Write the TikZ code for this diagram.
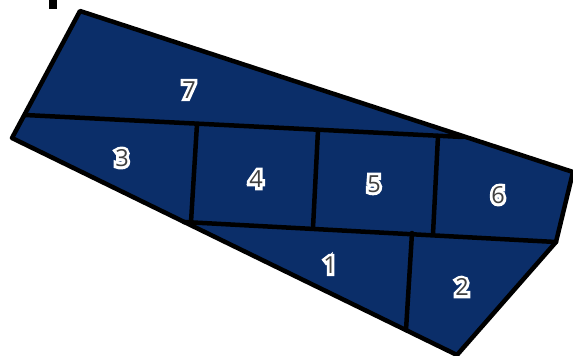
\documentclass[tikz,border=0pt]{standalone}
\usepackage{fontspec}
\setmainfont{Open Sans}
\newfontfamily\halofont[FakeBold=24]{Open Sans}
\definecolor{plotcol}{RGB}{11,46,105}
\definecolor{numcol}{RGB}{64,64,64}
\usetikzlibrary{calc}

\tikzset{
  plot edge/.style={line width=4.5pt, line join=round, line cap=round, black},
  plot num/.style={font=\fontsize{23.5}{24}\selectfont, inner sep=0pt, text=numcol},
  plot halo/.style={font=\halofont\fontsize{23.5}{24}\selectfont, inner sep=0pt, text=white},
}
% number with a white halo
\newcommand{\plotnum}[3]{%
  \node[plot halo] (#1h) at (#2) {#3};
  \node[plot num] (#1) at (#2) {#3};
}

\begin{document}
\begin{tikzpicture}[x=1pt, y=-1pt]
\useasboundingbox (0,0) rectangle (573,356);

% corner of a letter cut off above
\fill[black] (49,0) rectangle (57,9);

% outline
\coordinate (tl) at (80,11);
\coordinate (tr) at (573,172);
\coordinate (rc) at (556,242);
\coordinate (bt) at (457,355);
\coordinate (lf) at (12,138);
\coordinate (sl) at (25,115);
\coordinate (st) at (463,137);
\coordinate (ml) at (184,222);

\draw[plot edge, fill=plotcol] (tl) -- (tr) -- (rc) -- (bt) -- (lf) -- cycle;

% inner lines
\draw[plot edge] (sl) -- (st);
\draw[plot edge] (ml) -- (rc);
\draw[plot edge] (197,124) -- (191,222);
\draw[plot edge] (318,130) -- (313,228);
\draw[plot edge] (438,136) -- (433,234);
\draw[plot edge] (412,233) -- (406,330);

% plot numbers
\plotnum{n7}{189,90}{7}
\plotnum{n3}{122,158}{3}
\plotnum{n4}{256,179}{4}
\plotnum{n5}{374,184}{5}
\plotnum{n6}{498,195}{6}
\plotnum{n1}{330,265}{1}
\plotnum{n2}{462,287}{2}
\end{tikzpicture}
\end{document}
